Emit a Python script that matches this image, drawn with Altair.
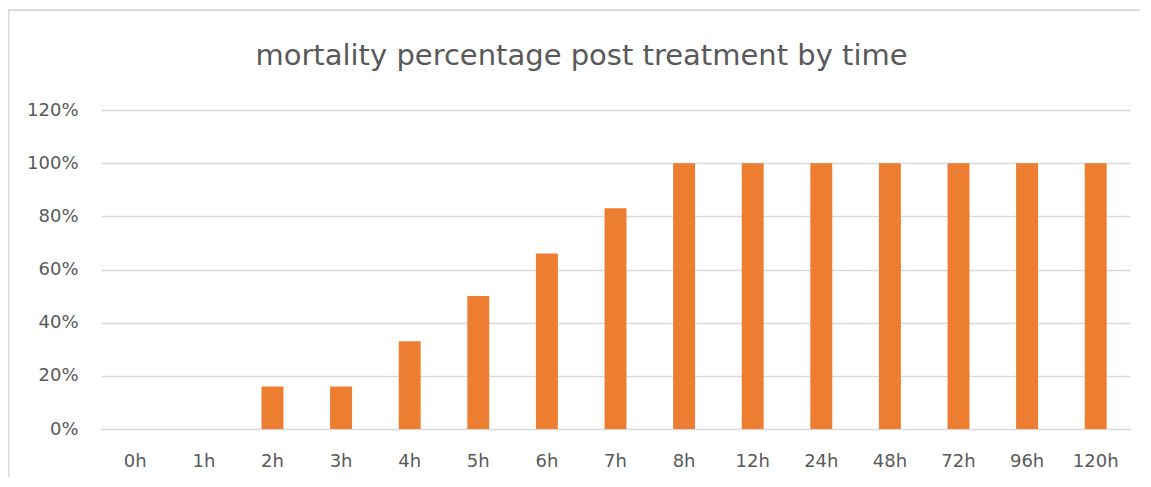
import altair as alt
import pandas as pd

categories = ["0h", "1h", "2h", "3h", "4h", "5h", "6h", "7h", "8h", "12h", "24h", "48h", "72h", "96h", "120h"]
mortality = [0, 0, 0.16, 0.16, 0.33, 0.50, 0.66, 0.83, 1.0, 1.0, 1.0, 1.0, 1.0, 1.0, 1.0]

df = pd.DataFrame({"time": categories, "mortality": mortality})

FONT = "DejaVu Sans"
GREY = "#595959"

bars = alt.Chart(df).mark_bar(color="#ED7D31").encode(
    x=alt.X("time:N", sort=categories,
            scale=alt.Scale(paddingInner=0.68, paddingOuter=0.34),
            axis=alt.Axis(title=None, labelAngle=0, ticks=False, domain=False,
                          labelFont=FONT, labelFontSize=18, labelColor=GREY,
                          labelPadding=23, grid=False)),
    y=alt.Y("mortality:Q",
            scale=alt.Scale(domain=[0, 1.2], nice=False),
            axis=alt.Axis(title=None, format=".0%", values=[0, 0.2, 0.4, 0.6, 0.8, 1.0, 1.2],
                          ticks=False, domain=False, labelFont=FONT, labelFontSize=18,
                          labelColor=GREY, labelPadding=23, gridColor="#d9d9d9",
                          gridWidth=1.5)),
)

frame_df = pd.DataFrame({"k": [0]})
top_line = alt.Chart(frame_df).mark_rule(color="#d9d9d9", strokeWidth=2, clip=False).encode(
    x=alt.value(-93), x2=alt.value(1060), y=alt.value(-100)
)
left_line = alt.Chart(frame_df).mark_rule(color="#d9d9d9", strokeWidth=2, clip=False).encode(
    x=alt.value(-92.5), y=alt.value(-100), y2=alt.value(400)
)

chart = alt.layer(bars, top_line, left_line).properties(
    width=1029, height=319,
    title=alt.TitleParams("mortality percentage post treatment by time",
                          font=FONT, fontSize=29, fontWeight="normal", color=GREY,
                          anchor="middle", baseline="alphabetic", dx=-34, offset=-85),
    autosize=alt.AutoSizeParams(type="none"),
    padding={"left": 93, "top": 102, "right": 10, "bottom": 48},
).configure(background="white").configure_view(stroke=None)

chart.save("out.html", embed_options={"renderer": "svg", "actions": False})
